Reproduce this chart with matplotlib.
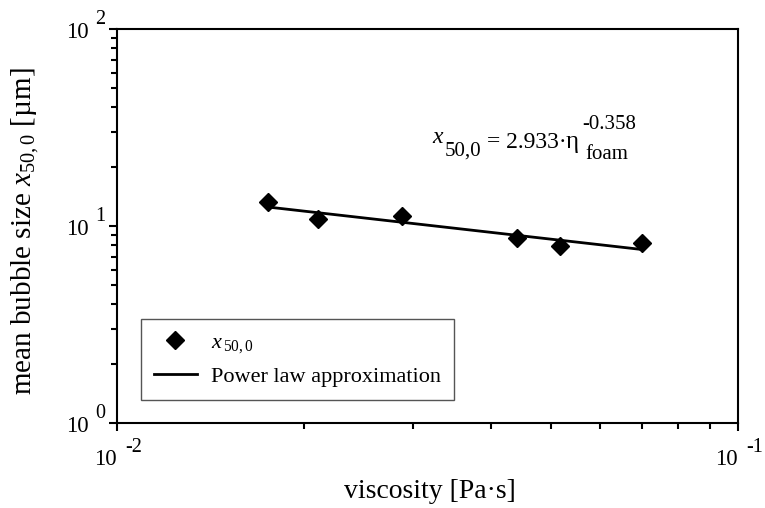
import numpy as np
import matplotlib
matplotlib.use("Agg")
import matplotlib.pyplot as plt
from matplotlib.lines import Line2D
from matplotlib.ticker import LogLocator, NullFormatter

plt.rcParams["font.family"] = ["Liberation Serif", "DejaVu Serif"]
plt.rcParams["mathtext.fontset"] = "custom"
plt.rcParams["mathtext.rm"] = "Liberation Serif"
plt.rcParams["mathtext.it"] = "Liberation Serif:italic"
plt.rcParams["mathtext.bf"] = "Liberation Serif:bold"

# measured mean bubble size vs. foam viscosity
viscosity = [0.0175, 0.0211, 0.0288, 0.0441, 0.0517, 0.0701]      # Pa·s
bubble_size = [13.2, 10.8, 11.3, 8.7, 7.9, 8.2]                   # µm

# power law fit  x50,0 = k * eta^n
fit_k = 2.933
fit_n = -0.358

x_ticks = [0.01, 0.1]
x_exponents = ["-2", "-1"]
y_ticks = [1, 10, 100]
y_exponents = ["0", "1", "2"]

W, H = 765, 508
fig = plt.figure(figsize=(W / 100, H / 100), dpi=100)
ax = fig.add_axes([117 / W, (H - 423) / H, 621 / W, 394 / H])

ax.set_xscale("log")
ax.set_yscale("log")
ax.set_xlim(0.01, 0.1)
ax.set_ylim(1, 100)

for s in ax.spines.values():
    s.set_linewidth(1.5)
    s.set_color("black")

for axis in (ax.xaxis, ax.yaxis):
    axis.set_major_locator(LogLocator(base=10))
    axis.set_minor_locator(LogLocator(base=10, subs=np.arange(2, 10)))
    axis.set_major_formatter(NullFormatter())
    axis.set_minor_formatter(NullFormatter())
ax.tick_params(which="major", direction="out", length=5.8, width=1.5, color="black")
ax.tick_params(which="minor", direction="out", length=4.3, width=1.5, color="black")
ax.tick_params(which="both", top=False, right=False)

# tick labels written as "10" with a separate raised exponent
for v, e in zip(x_ticks, x_exponents):
    ax.annotate("10", xy=(v, 0), xycoords=ax.get_xaxis_transform(),
                xytext=(-11.5, -42), textcoords="offset pixels",
                ha="center", va="baseline", fontsize=16.5)
    ax.annotate(e, xy=(v, 0), xycoords=ax.get_xaxis_transform(),
                xytext=(16.5, -29), textcoords="offset pixels",
                ha="center", va="baseline", fontsize=14.5)
for v, e in zip(y_ticks, y_exponents):
    ax.annotate("10", xy=(0, v), xycoords=ax.get_yaxis_transform(),
                xytext=(-40, -9), textcoords="offset pixels",
                ha="center", va="baseline", fontsize=16.5)
    ax.annotate(e, xy=(0, v), xycoords=ax.get_yaxis_transform(),
                xytext=(-17, 5), textcoords="offset pixels",
                ha="center", va="baseline", fontsize=14.5)

# data and fitted power law
eta = np.geomspace(min(viscosity), max(viscosity), 100)
ax.plot(eta, fit_k * eta ** fit_n, color="black", lw=2, zorder=2)
ax.plot(viscosity, bubble_size, linestyle="none", marker="D", ms=9.5,
        color="black", zorder=3)

# axis labels
ax.set_xlabel("viscosity [Pa·s]", fontsize=20)
ax.xaxis.set_label_coords(0.504, -0.190)
ax.xaxis.label.set_va("baseline")
ax.set_ylabel(r"mean bubble size $\mathit{x}_{50,0}$ [µm]", fontsize=21)
ax.yaxis.set_label_coords(-0.148, 0.487)
ax.yaxis.label.set_va("center")

# legend
handles = [
    Line2D([], [], linestyle="none", marker="D", ms=9.5, color="black"),
    Line2D([], [], color="black", lw=2),
]
labels = [r"$\mathit{x}_{\,50,0}$", "Power law approximation"]
leg = ax.legend(handles, labels, loc="lower left",
                bbox_to_anchor=(24 / 621, 23 / 394), borderaxespad=0,
                fontsize=16, handlelength=1.9, handletextpad=0.63,
                borderpad=0.6, labelspacing=0.5, fancybox=False,
                framealpha=1, edgecolor="#555555")
leg.get_frame().set_linewidth(1.0)

# fit equation, assembled piece by piece so every part keeps its own size
anchor = (0.507, 0.698)
pieces = [
    ("x", 17, 0, 5, "italic"),
    ("50,0", 15, 13, -8, "normal"),
    ("= 2.933·", 17, 55, 0, "normal"),
    ("η", 18, 134, 0, "normal"),
    (f"{fit_n:.3f}", 15, 150, 19, "normal"),
    ("foam", 15, 154, -11, "normal"),
]
for text, size, dx, dy, style in pieces:
    ax.annotate(text, xy=anchor, xycoords="axes fraction",
                xytext=(dx, dy), textcoords="offset pixels",
                ha="left", va="baseline", fontsize=size, style=style)

fig.savefig("out.png", dpi=100)
